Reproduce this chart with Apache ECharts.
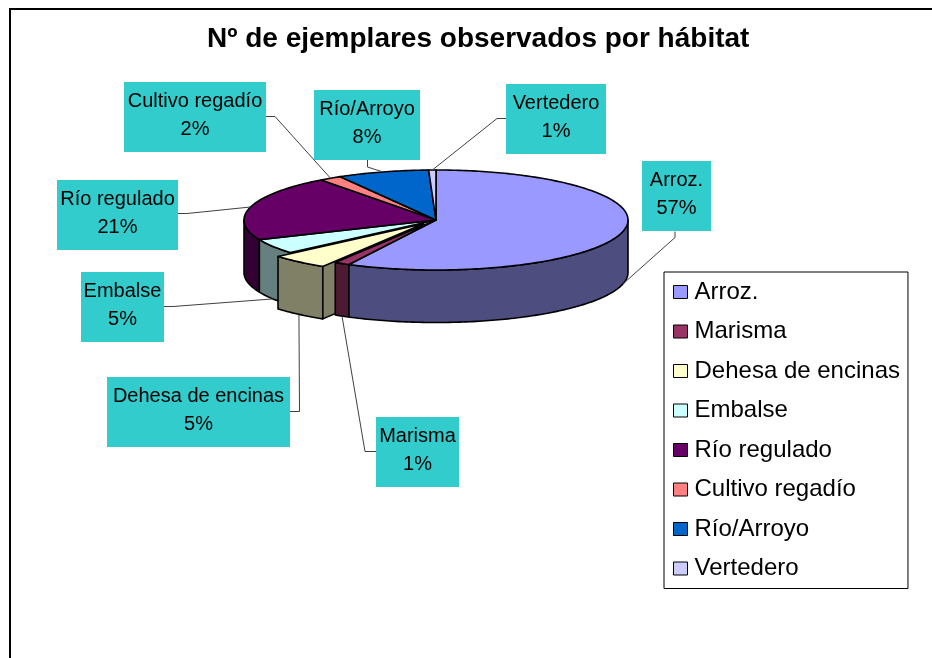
<!DOCTYPE html>
<html>
<head>
<meta charset="utf-8">
<style>html,body{margin:0;padding:0;background:#fff}#c{width:932px;height:658px}</style>
<script src="https://cdn.jsdelivr.net/npm/echarts@6/dist/echarts.min.js"></script>
</head>
<body>
<div id="c"></div>
<script>
// ---- data ----
const categories = ['Arroz.', 'Marisma', 'Dehesa de encinas', 'Embalse', 'Río regulado', 'Cultivo regadío', 'Río/Arroyo', 'Vertedero'];
const shares = [57.49, 1.3, 4.9, 4.9, 21.2, 1.9, 7.7, 0.61];
const topColors = ['#9999FF', '#993366', '#FFFFCC', '#CCFFFF', '#660066', '#FF8080', '#0066CC', '#CCCCFF'];
const wallColors = ['#4D4D80', '#4D1A33', '#808066', '#668080', '#330033', '#804040', '#003366', '#666680'];
const explodedIndex = 2;

// ---- layout ----
const FONT = 'Liberation Sans, Arial, sans-serif';
const pie = { cx: 436, cy: 220, rx: 192, ry: 50, depth: 52.5, explode: 0.1 };
const labelBoxes = [
  [642, 161, 69, 70], [376, 417, 83, 70], [107, 377, 183, 70], [81, 272, 83, 70],
  [57, 180, 121, 70], [124, 82, 142, 70], [314, 90, 106, 70], [506, 84, 100, 70]
];
const leaderElbows = [
  [[675, 231.5], [675, 237.5]], [[376, 451.5], [365, 451.5]], [[290, 411.5], [299.5, 411.5]], [[164, 306.5], [173, 306.5]],
  [[178, 213.5], [187, 213.5]], [[266, 116.5], [275, 116.5]], [[367.5, 160], [367.5, 167]], [[506, 118.5], [497, 118.5]]
];
const wallOrder = [6, 5, 4, 3, 2, 1, 0, 0];
const D2R = Math.PI / 180;
const total = shares.reduce((a, b) => a + b, 0);

function sliceAngles(i) {
  let s = 0;
  for (let k = 0; k < i; k++) s += shares[k];
  return [s / total * 360, (s + shares[i]) / total * 360];
}
function sliceOffset(i) {
  if (i !== explodedIndex) return [0, 0];
  const a = sliceAngles(i), m = (a[0] + a[1]) / 2 * D2R;
  return [pie.explode * pie.rx * Math.sin(m), -pie.explode * pie.ry * Math.cos(m)];
}
function pt(a, off, dy) {
  return [pie.cx + off[0] + pie.rx * Math.sin(a * D2R), pie.cy + off[1] - pie.ry * Math.cos(a * D2R) + (dy || 0)];
}
function arc(a0, a1, off, dy) {
  const out = [], n = Math.max(2, Math.ceil(Math.abs(a1 - a0)));
  for (let k = 0; k <= n; k++) out.push(pt(a0 + (a1 - a0) * k / n, off, dy));
  return out;
}
function renderSlice(i, api) {
  const share = api.value(0);
  const ang = sliceAngles(i), a0 = ang[0], a1 = ang[1], off = sliceOffset(i);
  const apex = [pie.cx + off[0], pie.cy + off[1]];
  const children = [];
  const edge = { stroke: '#000', lineWidth: 1.6, lineJoin: 'round' };
  // outer wall: only the near half of the rim is visible
  const w0 = Math.max(a0, 90), w1 = Math.min(a1, 270);
  if (w1 > w0) {
    const pts = arc(w0, w1, off).concat(arc(w1, w0, off, pie.depth));
    children.push({ type: 'polygon', z2: 2 + wallOrder[i], shape: { points: pts },
      style: Object.assign({ fill: wallColors[i] }, edge) });
  }
  // cut face shown by the pulled-out slice
  if (i === explodedIndex) {
    const p = pt(a0, off);
    children.push({ type: 'polygon', z2: 6, shape: { points: [p, apex, [apex[0], apex[1] + pie.depth], [p[0], p[1] + pie.depth]] },
      style: Object.assign({ fill: wallColors[i] }, edge) });
  }
  // top face
  children.push({ type: 'polygon', z2: 20 + (i === explodedIndex ? 1 : 0), shape: { points: [apex].concat(arc(a0, a1, off)) },
    style: Object.assign({ fill: topColors[i] }, edge) });
  // leader line, anchored at the middle of the slice
  const mid = (a0 + a1) / 2;
  const anchor = pt(mid, off, Math.cos(mid * D2R) < 0 ? pie.depth : 0);
  children.push({ type: 'polyline', z2: 30, shape: { points: leaderElbows[i].concat([anchor]) },
    style: { fill: 'none', stroke: '#404040', lineWidth: 1 } });
  // label box
  const b = labelBoxes[i];
  children.push({ type: 'rect', z2: 31, shape: { x: b[0], y: b[1], width: b[2], height: b[3] },
    style: { fill: '#33CCCC', stroke: 'none' } });
  children.push({ type: 'text', z2: 32, style: {
    text: categories[i] + '\n' + Math.round(share / total * 100) + '%',
    x: b[0] + b[2] / 2, y: b[1] + b[3] / 2 - 2, align: 'center', verticalAlign: 'middle',
    font: '20px ' + FONT, lineHeight: 28, fill: '#000' } });
  return { type: 'group', children: children };
}

const series = categories.map((name, i) => ({
  type: 'custom',
  name: name,
  coordinateSystem: 'none',
  silent: true,
  animation: false,
  itemStyle: { color: topColors[i] },
  data: [[shares[i]]],
  renderItem: (params, api) => renderSlice(i, api)
}));

const chart = echarts.init(document.getElementById('c'), null, { renderer: 'canvas' });
chart.setOption({
  animation: false,
  backgroundColor: '#fff',
  title: {
    text: 'Nº de ejemplares observados por hábitat',
    left: 207, top: 25, padding: 0,
    textStyle: { fontFamily: FONT, fontWeight: 'bold', fontSize: 28, color: '#000' }
  },
  legend: {
    orient: 'vertical', left: 664, top: 272,
    padding: [8, 8, 8, 9],
    itemWidth: 14, itemHeight: 13, itemGap: 15.5,
    icon: 'rect', selectedMode: false,
    backgroundColor: '#fff', borderColor: '#000', borderWidth: 1,
    textStyle: { fontFamily: FONT, fontSize: 24, color: '#000', padding: [0, 0, 0, 2] },
    itemStyle: { borderColor: '#000', borderWidth: 1 },
    data: categories
  },
  graphic: [{
    type: 'rect', z: -1, silent: true,
    shape: { x: 10, y: 9, width: 1000, height: 800 },
    style: { fill: 'none', stroke: '#000', lineWidth: 2 }
  }],
  series: series
});
</script>
</body>
</html>
